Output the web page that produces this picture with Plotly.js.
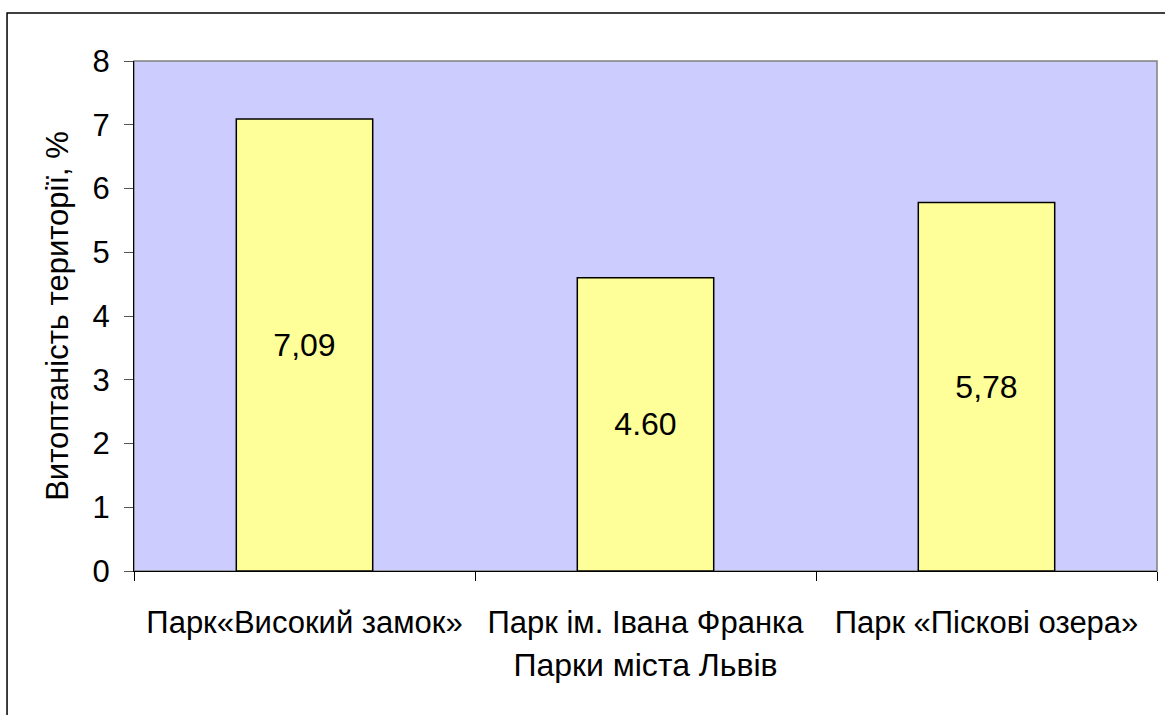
<!DOCTYPE html>
<html>
<head>
<meta charset="utf-8">
<script src="https://cdn.plot.ly/plotly-3.0.1.min.js"></script>
<style>html,body{margin:0;padding:0;background:#fff;}</style>
</head>
<body>
<div id="chart" style="width:1165px;height:715px;"></div>
<script>
const categories = ["Парк«Високий замок»", "Парк ім. Івана Франка", "Парк «Піскові озера»"];
const values = [7.09, 4.60, 5.78];
const valueLabels = ["7,09", "4.60", "5,78"];
const yTicks = [0, 1, 2, 3, 4, 5, 6, 7, 8];

const FONT = "Liberation Sans, Arial, sans-serif";

const trace = {
  type: "bar",
  x: categories,
  y: values,
  text: valueLabels,
  textposition: "inside",
  insidetextanchor: "middle",
  textangle: 0,
  textfont: {family: FONT, size: 32, color: "#000"},
  width: 0.4,
  marker: {color: "#FFFF99", line: {color: "#000", width: 1.5}},
  hoverinfo: "none"
};

const layout = {
  width: 1165,
  height: 715,
  margin: {l: 134, r: 8, t: 61, b: 144},
  paper_bgcolor: "#ffffff",
  plot_bgcolor: "#CCCCFF",
  showlegend: false,
  font: {family: FONT, size: 31, color: "#000"},
  xaxis: {
    type: "category",
    tickson: "boundaries",
    ticks: "outside",
    ticklen: 9,
    tickcolor: "#000",
    tickwidth: 1,
    ticklabelstandoff: 24,
    showline: true,
    linecolor: "#000",
    linewidth: 1,
    showgrid: false,
    tickfont: {family: FONT, size: 31, color: "#000"},
    title: {text: "Парки міста Львів", font: {family: FONT, size: 32, color: "#000"}, standoff: 14}
  },
  yaxis: {
    range: [0, 8],
    tickvals: yTicks,
    ticktext: yTicks.map(String),
    ticks: "outside",
    ticklen: 9,
    tickcolor: "#555",
    tickwidth: 1,
    ticklabelstandoff: 8,
    showline: true,
    linecolor: "#000",
    linewidth: 1,
    showgrid: false,
    zeroline: false,
    tickfont: {family: FONT, size: 31, color: "#000"},
    title: {text: "Витоптаність території, %", font: {family: FONT, size: 31, color: "#000"}, standoff: 14}
  },
  shapes: [
    {type: "rect", xref: "paper", yref: "paper", x0: 0, x1: 1, y0: 0, y1: 1,
     line: {color: "#808080", width: 1.5}, fillcolor: "rgba(0,0,0,0)", layer: "below"},
    {type: "rect", xref: "paper", yref: "paper", x0: -0.1241, x1: 1.03, y0: -0.3, y1: 1.0941,
     line: {color: "#000", width: 1.5}, fillcolor: "rgba(0,0,0,0)"}
  ]
};

Plotly.newPlot("chart", [trace], layout, {displayModeBar: false, staticPlot: true});
</script>
</body>
</html>
